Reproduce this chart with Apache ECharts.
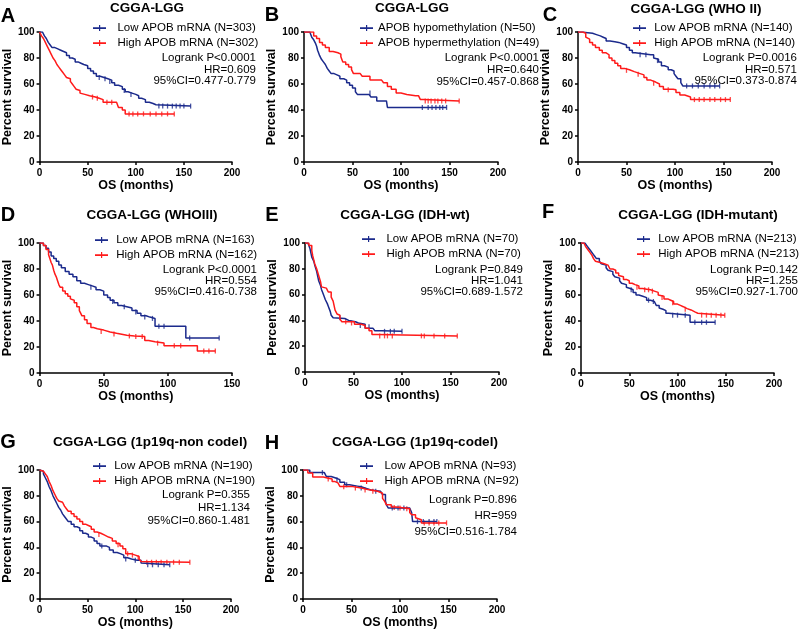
<!DOCTYPE html>
<html><head><meta charset="utf-8">
<script src="https://cdn.jsdelivr.net/npm/echarts@6/dist/echarts.min.js"></script>
<style>html,body{margin:0;padding:0;background:#fff}#c{width:800px;height:630px}</style>
</head><body><div id="c"></div>
<script>
// ---------- DATA (months, percent survival) ----------
const xTicksAll = [0, 50, 100, 150, 200];
const yTicks = [0, 20, 40, 60, 80, 100];

// Panel A
const lowA = [[0,100],[3,99],[5,97],[7,95],[9,92],[11,90],[13,88],[16,87],[19,86],[22,85],[25,84],[28,82],[31,80],[34,79],[37,77],[40,76],[43,75],[46,74],[50,72],[53,70],[56,68],[59,66],[63,65],[67,64],[71,63],[75,61],[78,59],[82,58],[86,56],[89,54],[92,53],[96,52],[100,51],[103,49],[106,48],[110,46],[114,45],[118,44],[121,43],[157,43]];
const lowACens = [[62,65],[68,64],[73,62],[88,55],[95,52],[124,43],[128,43],[133,43],[138,43],[142,43],[146,43],[150,43],[157,43]];
const highA = [[0,100],[2,97],[4,95],[6,92],[8,89],[10,86],[12,83],[14,80],[16,78],[18,75],[20,73],[22,71],[24,69],[26,67],[28,65],[30,64],[32,62],[34,60],[36,58],[38,56],[40,55],[42,53],[44,52],[47,51],[52,50],[58,49],[62,48],[66,46],[80,46],[82,42],[86,40],[89,37],[140,37]];
const highACens = [[55,50],[60,49],[70,46],[75,46],[93,37],[97,37],[102,37],[108,37],[115,37],[121,37],[127,37],[133,37],[140,37]];
const statsA = ['Logrank P<0.0001', 'HR=0.609', '95%CI=0.477-0.779'];

// Panel B
const hypoB = [[0,100],[6,99],[8,96],[10,94],[12,91],[13,89],[14,86],[15,84],[16,82],[18,79],[20,77],[22,75],[24,72],[26,70],[28,68],[31,67],[34,66],[37,64],[41,63],[44,61],[47,59],[50,57],[53,54],[55,52],[67,52],[69,50],[75,47],[85,47],[86,42],[147,42]];
const hypoBCens = [[68,53],[122,42],[128,42],[132,42],[136,42],[140,42],[143,42],[147,42]];
const hyperB = [[0,100],[10,97],[13,95],[16,92],[19,90],[22,88],[26,85],[30,84],[35,83],[38,81],[40,77],[43,75],[46,73],[49,71],[51,68],[58,68],[60,66],[68,63],[80,63],[82,61],[86,58],[90,56],[95,53],[100,52],[106,51],[115,51],[118,50],[120,48],[123,47],[160,47]];
const hyperBCens = [[125,47],[128,47],[131,47],[135,47],[138,47],[142,47],[146,47],[160,47]];
const statsB = ['Logrank P<0.0001', 'HR=0.640', '95%CI=0.457-0.868'];

// Panel C
const lowC = [[0,100],[5,99.5],[10,99],[15,98],[19,97],[23,96],[26,95],[29,93],[33,92.5],[38,92],[42,91],[46,90],[50,88],[53,86],[56,84],[59,82.5],[75,82.5],[78,80],[80,79],[83,77],[86,74],[89,73],[93,71],[96,70],[99,68],[101,66],[103,64],[106,61],[108,58.5],[146,58.5]];
const lowCCens = [[64,82.5],[70,82.5],[82,78],[112,58.5],[118,58.5],[124,58.5],[130,58.5],[136,58.5],[141,58.5],[146,58.5]];
const highC = [[0,100],[5,99],[8,96],[10,94.5],[12,92],[15,90],[18,88],[22,86],[25,84],[29,82.5],[32,80],[35,78],[38,76],[41,74],[44,72],[48,71],[53,69.5],[58,68],[64,67],[68,65],[71,63],[75,61.5],[80,60],[84,58],[88,56],[98,55.5],[101,53.5],[105,51.5],[110,50],[116,48],[157,48]];
const highCCens = [[50,70.5],[62,67.5],[78,60.5],[93,55.5],[120,48],[125,48],[130,48],[136,48],[141,48],[147,48],[152,48],[157,48]];
const statsC = ['Logrank P=0.0016', 'HR=0.571', '95%CI=0.373-0.874'];

// Panel D
const lowD = [[0,100],[3,98],[5,96],[7,93],[9,90],[11,88],[13,86],[15,83],[17,81],[20,78],[23,76],[26,74],[29,71],[32,69],[35,68],[38,67],[41,66],[44,64],[47,63],[50,60],[53,58],[55,56],[58,54],[61,52],[64,51],[68,50],[72,48],[76,46],[79,44],[83,43],[86,42],[90,36],[114,27],[140,27]];
const lowDCens = [[40,66],[57,55],[66,51],[75,47],[82,43],[88,42],[93,36],[97,36],[117,27],[140,27]];
const highD = [[0,100],[3,98],[5,95],[7,91],[8,88],[9,85],[10,83],[11,79],[12,76],[13,74],[14,71],[15,68],[16,66],[18,63],[20,61],[22,59],[24,57],[25,56],[27,54],[29,51],[31,48],[32,46],[33,44],[35,41],[37,38],[40,35],[42,34],[45,33],[50,31.5],[55,30.5],[60,29],[68,28.5],[74,28],[82,25],[85,24],[90,23],[97,21],[115,21],[123,17],[137,17]];
const highDCens = [[48,32],[58,30],[70,28.5],[75,28],[80,28],[92,23],[105,21],[110,21],[128,17],[132,17],[137,17]];
const statsD = ['Logrank P<0.0001', 'HR=0.554', '95%CI=0.416-0.738'];

// Panel E
const lowE = [[0,100],[3,99],[5,96],[7,89],[9,86],[10,83],[12,78],[14,71],[16,67],[17,64],[19,60],[21,56],[23,53],[24,51],[26,47],[27,44],[29,42],[31,41.5],[41,41.5],[43,40],[45,39],[52,38],[55,37],[62,34],[70,34],[72,32],[79,31.5],[100,31.5]];
const lowECens = [[36,42],[57,36],[66,35],[82,31.5],[88,31.5],[92,31.5],[100,31.5]];
const highE = [[0,100],[4,98],[7,94],[8,90],[10,84],[12,80],[14,75],[16,70],[17,66],[19,65],[22,64],[24,62],[27,58],[29,55],[31,48],[33,45],[34,44],[36,41],[38,39],[47,39],[51,37],[58,36],[62,34],[66,32],[69,29],[74,28],[157,28]];
const highECens = [[42,39],[48,38],[77,28],[82,28],[85,28],[90,28],[120,28],[123,28],[133,28],[144,28],[157,28]];
const statsE = ['Logrank P=0.849', 'HR=1.041', '95%CI=0.689-1.572'];

// Panel F
const lowF = [[0,100],[4,99],[6,98],[8,96],[10,94],[12,92],[14,90],[16,88],[19,86],[21,84],[23,83],[26,81],[28,79],[30,78],[33,76],[35,74],[37,73],[40,71],[42,69],[44,68],[47,66],[49,65],[51,64],[54,62],[57,60],[60,59],[64,58],[68,56],[72,55],[76,54],[78,52],[81,50],[83,49],[85,48],[88,46],[91,44.5],[113,39],[139,39]];
const lowFCens = [[52,64],[70,56],[75,55],[95,44.5],[100,44.5],[108,44.5],[118,39],[125,39],[130,39],[139,39]];
const highF = [[0,100],[3,99],[5,97],[7,95],[9,93],[11,91],[13,88],[15,86],[17,85],[20,84],[24,83],[28,82],[30,80],[33,79],[36,77],[39,75],[41,74],[44,72],[47,71],[50,69],[53,68],[56,67],[60,65],[64,64.5],[68,64],[72,63],[76,62],[80,60],[82,59],[86,57],[90,56],[93,55],[96,53],[100,52],[103,51],[106,49.5],[110,48.5],[114,47],[118,46],[121,44.5],[149,44.5]];
const highFCens = [[58,66],[66,64],[70,64],[74,63],[84,58],[95,54],[108,49],[125,44.5],[130,44.5],[135,44.5],[140,44.5],[145,44.5],[149,44.5]];
const statsF = ['Logrank P=0.142', 'HR=1.255', '95%CI=0.927-1.700'];

// Panel G
const lowG = [[0,100],[2,99],[4,97],[6,94],[8,91],[10,87],[12,84],[14,80],[16,77],[18,74],[20,71],[22,69],[24,66],[26,64],[28,62],[30,60],[33,58],[36,56],[39,55],[42,53],[45,51],[48,50],[51,48],[54,47],[57,45],[60,43],[63,41],[70,40],[73,38],[77,36],[81,35],[85,34],[88,32],[92,31],[96,30],[102,30],[106,28],[108,26.5],[136,26.5]];
const lowGCens = [[65,41],[90,31],[100,30],[113,26.5],[118,26.5],[124,26.5],[130,26.5],[136,26.5]];
const highG = [[0,100],[2,99],[4,98],[6,97],[8,95],[10,91],[12,88],[14,84],[16,81],[18,78],[20,76],[22,75],[24,74],[26,72],[28,70],[30,68],[33,66],[36,64],[39,62],[42,60],[45,58],[48,57],[51,56],[54,54],[57,52],[60,51],[64,49.5],[68,48],[72,47],[76,45],[80,43],[84,41],[87,39],[90,35],[96,34],[100,33],[104,31],[106,29],[108,28.5],[157,28.5]];
const highGCens = [[62,50],[82,42],[92,35],[97,34],[103,32],[112,28.5],[117,28.5],[122,28.5],[127,28.5],[133,28.5],[140,28.5],[146,28.5],[157,28.5]];
const statsG = ['Logrank P=0.355', 'HR=1.134', '95%CI=0.860-1.481'];

// Panel H
const lowH = [[0,100],[7,98],[22,98],[24,95],[29,94],[33,92.5],[38,90.5],[43,88.5],[48,87.5],[56,87],[60,85.5],[66,84.5],[70,83.5],[80,83.5],[82,81],[85,76],[86,73],[88,70.5],[110,70.5],[112,67],[113,60],[138,60]];
const lowHCens = [[20,98],[35,92.5],[45,88.5],[60,86],[75,83.5],[92,70.5],[98,70.5],[104,70.5],[118,60],[124,60],[130,60],[135,60],[138,60]];
const highH = [[0,100],[5,97.7],[10,94.5],[21,94],[24,93],[30,91],[33,90],[36,88.5],[38,87.3],[50,86],[60,84.8],[67,83.5],[77,82],[82,78],[84,76],[86,73],[91,71.3],[96,70.5],[105,70],[110,67],[112,65.4],[116,63],[117,61.5],[122,59],[148,59]];
const highHCens = [[26,93],[42,87],[54,86],[64,84.5],[72,83.5],[94,71],[100,70.5],[107,70],[125,59],[130,59],[135,59],[140,59],[148,59]];
const statsH = ['Logrank P=0.896', 'HR=959', '95%CI=0.516-1.784'];

// Names / titles
const titles = ['CGGA-LGG','CGGA-LGG','CGGA-LGG (WHO II)','CGGA-LGG (WHOIII)','CGGA-LGG (IDH-wt)','CGGA-LGG (IDH-mutant)','CGGA-LGG (1p19q-non codel)','CGGA-LGG (1p19q-codel)'];
const letters = ['A','B','C','D','E','F','G','H'];
const nameA = ['Low APOB mRNA (N=303)','High APOB mRNA (N=302)'];
const nameB = ['APOB hypomethylation (N=50)','APOB hypermethylation (N=49)'];
const nameC = ['Low APOB mRNA (N=140)','High APOB mRNA (N=140)'];
const nameD = ['Low APOB mRNA (N=163)','High APOB mRNA (N=162)'];
const nameE = ['Low APOB mRNA (N=70)','High APOB mRNA (N=70)'];
const nameF = ['Low APOB mRNA (N=213)','High APOB mRNA (N=213)'];
const nameG = ['Low APOB mRNA (N=190)','High APOB mRNA (N=190)'];
const nameH = ['Low APOB mRNA (N=93)','High APOB mRNA (N=92)'];

// ---------- LAYOUT ----------
const FONT = 'Liberation Sans, Arial, sans-serif';
const BLUE = '#1b2a8c', RED = '#ff1a1a';
const panels = [
  {names:nameA, low:lowA, lowC:lowACens, high:highA, highC:highACens, stats:statsA, xMax:200,
   grid:{left:38,top:32,width:194,height:130}, title:[147,8], letter:[8,16], legend:[93,28], sp:2, statR:256, statY:[58,70,81]},
  {names:nameB, low:hypoB, lowC:hypoBCens, high:hyperB, highC:hyperBCens, stats:statsB, xMax:200,
   grid:{left:304,top:32,width:194,height:130}, title:[412,8], letter:[272,15], legend:[360,28], sp:0, statR:539, statY:[58,70,82]},
  {names:nameC, low:lowC, lowC:lowCCens, high:highC, highC:highCCens, stats:statsC, xMax:200,
   grid:{left:578,top:32,width:194,height:130}, title:[696,9], letter:[550,15], legend:[633,28], sp:1, statR:797, statY:[58,70,81]},
  {names:nameD, low:lowD, lowC:lowDCens, high:highD, highC:highDCens, stats:statsD, xMax:150,
   grid:{left:39,top:243,width:193,height:130}, title:[152,215], letter:[8,215], legend:[95,240], sp:1, statR:257, statY:[270,281,292]},
  {names:nameE, low:lowE, lowC:lowECens, high:highE, highC:highECens, stats:statsE, xMax:200,
   grid:{left:305,top:243,width:194,height:129}, title:[405,215], letter:[272,215], legend:[362,239], sp:2, statR:523, statY:[270,281,292]},
  {names:nameF, low:lowF, lowC:lowFCens, high:highF, highC:highFCens, stats:statsF, xMax:200,
   grid:{left:581,top:243,width:193,height:130}, title:[698,215], letter:[548,212], legend:[637,239], sp:1, statR:798, statY:[270,281,292]},
  {names:nameG, low:lowG, lowC:lowGCens, high:highG, highC:highGCens, stats:statsG, xMax:200,
   grid:{left:37,top:470,width:194,height:129}, title:[150,442], letter:[8,442], legend:[93,466], sp:1, statR:250, statY:[495,508,521]},
  {names:nameH, low:lowH, lowC:lowHCens, high:highH, highC:highHCens, stats:statsH, xMax:200,
   grid:{left:303,top:470,width:194,height:129}, title:[415,442], letter:[272,443], legend:[360,466], sp:2, statR:517, statY:[500,516,532]}
];

const grids = [], xAxes = [], yAxes = [], series = [], legends = [], graphics = [];
const axisLineStyle = {color:'#000', width:1.5};
const legendIcon = 'path://M0,2.8H6V0.5H7.2V2.8H13V4.4H7.2V6.5H6V4.4H0Z';
panels.forEach((p, i) => {
  grids.push(Object.assign({containLabel:false}, p.grid));
  xAxes.push({gridIndex:i, type:'value', min:0, max:p.xMax, interval:50,
    axisLine:{show:true, onZero:false, lineStyle:axisLineStyle},
    axisTick:{show:true, length:3, lineStyle:axisLineStyle},
    axisLabel:{color:'#000', fontWeight:'bold', fontSize:10, margin:6, fontFamily:FONT},
    splitLine:{show:false},
    name:'OS (months)', nameLocation:'middle', nameGap:17,
    nameTextStyle:{color:'#000', fontWeight:'bold', fontSize:12.5, fontFamily:FONT}});
  yAxes.push({gridIndex:i, type:'value', min:0, max:100, interval:20,
    axisLine:{show:true, onZero:false, lineStyle:axisLineStyle},
    axisTick:{show:true, length:3, lineStyle:axisLineStyle},
    axisLabel:{color:'#000', fontWeight:'bold', fontSize:10, margin:5, fontFamily:FONT},
    splitLine:{show:false},
    name:'Percent survival', nameLocation:'middle', nameGap:23,
    nameTextStyle:{color:'#000', fontWeight:'bold', fontSize:12.5, fontFamily:FONT}});
  const groups = [[p.names[0], p.low, p.lowC, BLUE], [p.names[1], p.high, p.highC, RED]];
  groups.forEach(([nm, curve, cens, col]) => {
    series.push({name:nm, type:'line', step:'end', xAxisIndex:i, yAxisIndex:i, data:curve,
      showSymbol:false, symbol:'none', color:col, itemStyle:{color:col},
      lineStyle:{color:col, width:1.5}, animation:false, silent:true});
    series.push({name:nm + ' censored', type:'scatter', xAxisIndex:i, yAxisIndex:i, data:cens,
      symbol:'rect', symbolSize:[1.3,5], itemStyle:{color:col}, animation:false, silent:true});
  });
  const spaces = ' '.repeat(p.sp);
  legends.push({data:p.names, orient:'vertical', left:p.legend[0], top:p.legend[1]-6.5, padding:0,
    itemWidth:13, itemHeight:6, itemGap:2, icon:legendIcon, selectedMode:false,
    textStyle:{color:'#000', fontSize:11.5, lineHeight:13, fontFamily:FONT},
    formatter: n => spaces + n});
  graphics.push({type:'text', x:p.title[0], y:p.title[1],
    style:{text:titles[i], align:'center', verticalAlign:'middle', fill:'#000', font:'bold 13.5px ' + FONT}});
  graphics.push({type:'text', x:p.letter[0], y:p.letter[1],
    style:{text:letters[i], align:'center', verticalAlign:'middle', fill:'#000', font:'bold 20px ' + FONT}});
  p.stats.forEach((s, k) => {
    graphics.push({type:'text', x:p.statR, y:p.statY[k],
      style:{text:s, align:'right', verticalAlign:'middle', fill:'#000', font:'11.5px ' + FONT}});
  });
});

const chart = echarts.init(document.getElementById('c'), null, {renderer:'canvas'});
chart.setOption({
  backgroundColor:'#fff', animation:false,
  grid:grids, xAxis:xAxes, yAxis:yAxes, series:series, legend:legends,
  graphic:{elements:graphics}
});
</script></body></html>
